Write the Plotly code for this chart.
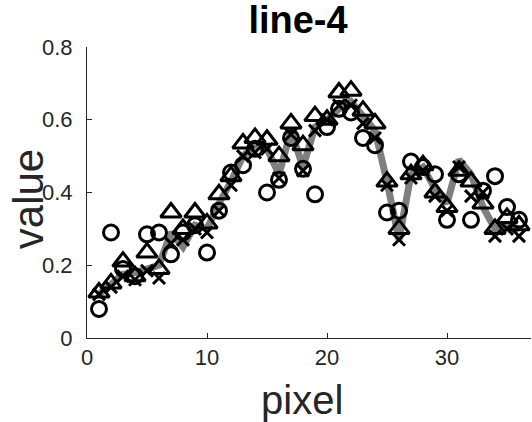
import plotly.graph_objects as go

pixels = list(range(1, 37))
truth = [0.12, 0.15, 0.175, 0.18, 0.19, 0.20, 0.29, 0.25, 0.31, 0.30,
         0.37, 0.43, 0.50, 0.53, 0.52, 0.45, 0.57, 0.47, 0.58, 0.60,
         0.63, 0.65, 0.61, 0.57, 0.43, 0.27, 0.45, 0.47, 0.41, 0.37,
         0.49, 0.45, 0.36, 0.30, 0.31, 0.30]
circles = [0.08, 0.29, 0.19, 0.17, 0.285, 0.29, 0.23, 0.29, 0.31, 0.235,
           0.35, 0.455, 0.475, 0.52, 0.40, 0.435, 0.55, 0.465, 0.395, 0.58,
           0.63, 0.62, 0.55, 0.53, 0.345, 0.35, 0.485, 0.47, 0.45, 0.325,
           0.45, 0.325, 0.405, 0.445, 0.36, 0.325]
triangles = [0.125, 0.15, 0.21, 0.17, 0.235, 0.19, 0.345, 0.30, 0.345, 0.315,
             0.395, 0.445, 0.535, 0.55, 0.545, 0.50, 0.59, 0.53, 0.61, 0.60,
             0.675, 0.68, 0.625, 0.59, 0.43, 0.30, 0.45, 0.475, 0.40, 0.36,
             0.46, 0.43, 0.37, 0.30, 0.33, 0.31]
crosses = [0.12, 0.14, 0.17, 0.16, 0.185, 0.165, 0.26, 0.27, 0.30, 0.29,
           0.35, 0.42, 0.50, 0.51, 0.52, 0.44, 0.56, 0.46, 0.57, 0.60,
           0.64, 0.64, 0.59, 0.55, 0.42, 0.27, 0.44, 0.46, 0.39, 0.35,
           0.47, 0.39, 0.40, 0.28, 0.30, 0.28]
x_ticks = [0, 10, 20, 30]
y_ticks = [0, 0.2, 0.4, 0.6, 0.8]
y_tick_labels = ["0", "0.2", "0.4", "0.6", "0.8"]

FONT = "Liberation Sans, Arial, sans-serif"
INK = "#262626"

fig = go.Figure()
fig.add_trace(go.Scatter(x=pixels, y=truth, mode="lines",
                         line=dict(color="#7f7f7f", width=7)))
fig.add_trace(go.Scatter(x=pixels, y=circles, mode="markers",
                         marker=dict(symbol="circle-open", size=15, color="black",
                                     line=dict(width=3, color="black"))))
fig.add_trace(go.Scatter(x=pixels, y=triangles, mode="markers",
                         marker=dict(symbol="triangle-up-open", size=18, color="black",
                                     line=dict(width=3, color="black"))))
fig.add_trace(go.Scatter(x=pixels, y=crosses, mode="markers",
                         marker=dict(symbol="x-thin", size=12, color="black",
                                     line=dict(width=3, color="black"))))

axis_common = dict(showgrid=False, zeroline=False, showline=True, linecolor=INK,
                   linewidth=1, ticks="inside", ticklen=5, tickcolor=INK,
                   tickfont=dict(family=FONT, size=22, color=INK),
                   mirror=False, automargin=False)
fig.update_xaxes(range=[0, 37], tickvals=x_ticks, ticklabelstandoff=0, **axis_common)
fig.update_yaxes(range=[0, 0.8], tickvals=y_ticks, ticktext=y_tick_labels,
                 ticklabelstandoff=9, **axis_common)

fig.update_layout(
    width=532, height=422,
    margin=dict(l=86.7, r=1.3, t=46.7, b=83.7),
    paper_bgcolor="white", plot_bgcolor="white",
    showlegend=False,
    title=dict(text="<b>line-4</b>", x=298 / 532, xanchor="center", xref="container",
               y=1 - 20 / 422, yanchor="middle", yref="container",
               font=dict(family=FONT, size=38, color="black")),
    annotations=[
        dict(text="pixel", xref="paper", yref="paper", x=(302 - 86.7) / 444, y=-0.213,
             xanchor="center", yanchor="middle", showarrow=False,
             font=dict(family=FONT, size=40, color=INK)),
        dict(text="value", xref="paper", yref="paper", x=(29 - 86.7) / 444, y=0.478,
             xanchor="center", yanchor="middle", showarrow=False, textangle=-90,
             font=dict(family=FONT, size=42, color=INK)),
    ],
)
fig.write_html("out.html", config={"displayModeBar": False},
               post_script="document.body.style.margin='0';")
